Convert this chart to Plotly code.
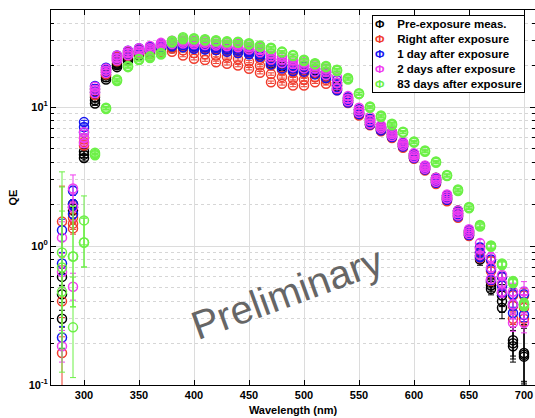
import plotly.graph_objects as go

# ---------------- data ----------------
wavelength = [280, 290, 300, 310, 320, 330, 340, 350, 360, 370, 380, 390, 400, 410, 420,
              430, 440, 450, 460, 470, 480, 490, 500, 510, 520, 530, 540, 550, 560, 570,
              580, 590, 600, 610, 620, 630, 640, 650, 660, 670, 680, 690, 700]

series_names = ["Pre-exposure meas.", "Right after exposure", "1 day after exposure",
                "2 days after exposure", "83 days after exposure"]

# three readings (upper / middle / lower) per wavelength for every series
pre_hi = [0.6, 2.0, 4.8, 11.8, 17.0, 20.6, 23.0, 25.0, 26.0, 27.5, 28.0, 28.5, 28.0, 27.8, 27.5,
          27.0, 26.5, 26.0, 25.0, 22.0, 21.0, 20.0, 19.5, 18.8, 17.8, 15.0, 11.6, 9.6, 8.2, 7.2,
          6.6, 5.5, 4.6, 3.75, 3.1, 2.3, 1.8, 1.28, 0.9, 0.55, 0.44, 0.21, 0.17]
pre_mid = [0.45, 1.9, 4.55, 11.2, 16.4, 20.0, 22.3, 24.2, 25.2, 26.8, 27.3, 27.7, 27.3, 27.0, 26.7,
           26.2, 25.7, 25.2, 24.2, 21.3, 20.3, 19.3, 18.8, 18.1, 17.2, 14.2, 11.2, 9.2, 7.8, 7.0,
           6.35, 5.35, 4.45, 3.65, 2.98, 2.22, 1.72, 1.24, 0.85, 0.52, 0.4, 0.2, 0.165]
pre_lo = [0.3, 1.8, 4.3, 10.6, 15.8, 19.4, 21.6, 23.5, 24.5, 26.0, 26.5, 27.0, 26.5, 26.2, 26.0,
          25.5, 25.0, 24.5, 23.5, 20.6, 19.6, 18.6, 18.2, 17.5, 16.6, 13.5, 10.9, 8.9, 7.5, 6.8,
          6.1, 5.2, 4.3, 3.55, 2.88, 2.15, 1.65, 1.2, 0.8, 0.49, 0.36, 0.19, 0.16]

right_hi = [1.5, 1.6, 6.0, 13.5, 18.5, 23.0, 25.0, 26.0, 26.5, 28.0, 28.0, 27.8, 26.9, 26.6, 26.3,
            25.5, 24.9, 24.3, 22.3, 19.9, 18.4, 17.8, 17.6, 17.8, 16.9, 14.5, 11.5, 9.4, 8.0, 7.1,
            6.4, 5.4, 4.5, 3.7, 3.0, 2.25, 1.75, 1.28, 0.97, 0.78, 0.6, 0.44, 0.44]
right_mid = [0.4, 1.45, 5.6, 12.8, 17.8, 22.2, 24.2, 25.2, 25.3, 26.5, 26.5, 25.6, 24.5, 24.0, 23.5,
             23.0, 22.2, 21.3, 19.9, 17.3, 16.5, 16.0, 15.8, 16.4, 15.7, 13.8, 11.1, 9.0, 7.7, 6.9,
             6.2, 5.25, 4.4, 3.6, 2.9, 2.18, 1.68, 1.23, 0.9, 0.66, 0.52, 0.37, 0.36]
right_lo = [0.17, 1.34, 5.3, 12.2, 17.2, 21.4, 23.4, 24.4, 24.0, 25.0, 25.0, 23.5, 22.3, 21.8, 21.0,
            20.5, 19.9, 18.9, 17.7, 15.1, 14.7, 14.3, 14.3, 15.1, 14.7, 13.2, 10.7, 8.7, 7.4, 6.7,
            6.0, 5.1, 4.25, 3.5, 2.8, 2.1, 1.6, 1.18, 0.82, 0.56, 0.46, 0.3, 0.3]

day1_hi = [1.3, 2.5, 7.8, 14.2, 19.2, 23.5, 25.5, 26.5, 27.2, 28.5, 29.0, 29.0, 28.0, 27.8, 27.5,
           27.0, 26.5, 25.6, 25.0, 22.3, 21.0, 20.0, 19.6, 18.8, 17.8, 15.6, 11.8, 9.6, 8.2, 7.2,
           6.5, 5.5, 4.6, 3.75, 3.05, 2.3, 1.78, 1.3, 0.98, 0.8, 0.6, 0.45, 0.45]
day1_mid = [0.75, 2.0, 7.2, 13.5, 18.5, 22.6, 24.6, 25.7, 26.4, 27.7, 28.2, 28.0, 27.2, 26.9, 26.6,
            26.0, 25.5, 24.8, 24.0, 21.3, 20.0, 19.0, 18.8, 18.0, 17.0, 14.4, 11.2, 9.2, 7.8, 7.0,
            6.3, 5.35, 4.45, 3.65, 2.95, 2.22, 1.7, 1.25, 0.9, 0.68, 0.52, 0.38, 0.38]
day1_lo = [0.22, 1.7, 6.6, 12.8, 17.8, 21.8, 23.8, 25.0, 25.6, 26.9, 27.4, 27.0, 26.3, 26.0, 25.7,
           25.0, 24.5, 24.0, 23.0, 20.3, 19.0, 18.2, 18.0, 17.2, 16.2, 13.2, 10.8, 8.9, 7.5, 6.8,
           6.1, 5.2, 4.3, 3.55, 2.85, 2.15, 1.63, 1.2, 0.83, 0.57, 0.46, 0.33, 0.32]

day2_hi = [1.15, 2.6, 6.6, 14.0, 19.0, 23.5, 25.5, 26.5, 27.5, 29.0, 30.0, 30.2, 30.0, 29.8, 29.5,
           29.0, 28.6, 28.0, 26.8, 24.3, 23.0, 21.7, 21.0, 20.0, 18.9, 16.4, 12.0, 9.9, 8.5, 7.4,
           6.6, 5.6, 4.65, 3.8, 3.1, 2.35, 1.8, 1.32, 1.05, 0.83, 0.62, 0.47, 0.47]
day2_mid = [0.65, 1.9, 6.0, 13.3, 18.3, 22.6, 24.5, 25.5, 26.5, 28.3, 29.3, 29.5, 29.2, 29.0, 28.6,
            28.2, 27.8, 27.0, 25.8, 23.2, 22.0, 20.5, 20.0, 19.0, 18.0, 15.0, 11.5, 9.5, 8.0, 7.2,
            6.4, 5.45, 4.5, 3.7, 3.0, 2.28, 1.73, 1.27, 0.95, 0.7, 0.54, 0.38, 0.38]
day2_lo = [0.19, 0.51, 5.5, 12.6, 17.6, 21.7, 23.6, 24.8, 25.8, 27.6, 28.5, 28.7, 28.3, 28.0, 27.8,
           27.4, 27.0, 26.0, 24.8, 22.0, 20.8, 19.4, 19.0, 18.0, 17.0, 13.6, 11.0, 9.1, 7.6, 7.0,
           6.2, 5.3, 4.35, 3.6, 2.9, 2.2, 1.66, 1.22, 0.86, 0.58, 0.47, 0.28, 0.28]

day83_hi = [0.9, 0.84, 1.53, 4.7, 9.9, 15.8, 19.8, 22.2, 23.2, 24.5, 30.0, 31.8, 31.3, 30.8, 30.3,
            29.8, 29.6, 28.8, 27.8, 26.8, 25.1, 23.7, 21.9, 20.7, 19.8, 18.6, 16.2, 12.6, 10.1, 8.7,
            7.6, 6.65, 5.65, 4.87, 4.06, 3.25, 2.55, 1.91, 1.42, 1.01, 0.75, 0.56, 0.39]
day83_mid = [0.7, 0.84, 1.06, 4.6, 9.8, 15.6, 19.6, 22.0, 22.9, 24.2, 29.6, 31.3, 31.0, 30.5, 30.0,
             29.5, 29.3, 28.5, 27.5, 26.5, 24.9, 23.5, 21.7, 20.5, 19.6, 18.4, 16.0, 12.5, 10.0, 8.6,
             7.5, 6.6, 5.6, 4.82, 4.02, 3.22, 2.52, 1.89, 1.4, 1.0, 0.74, 0.55, 0.38]
day83_lo = [0.47, 0.26, 1.06, 4.5, 9.7, 15.4, 19.4, 21.8, 22.6, 23.9, 29.2, 30.8, 30.7, 30.2, 29.7,
            29.2, 29.0, 28.2, 27.2, 26.2, 24.7, 23.3, 21.5, 20.3, 19.4, 18.2, 15.8, 12.4, 9.9, 8.5,
            7.4, 6.55, 5.55, 4.77, 3.98, 3.19, 2.49, 1.87, 1.38, 0.99, 0.73, 0.54, 0.37]

# relative uncertainty of each reading
err_pre = [0.15, 0.05, 0.05, 0.03, 0.03, 0.02, 0.02, 0.02, 0.02, 0.02, 0.02, 0.02, 0.02, 0.02, 0.02,
           0.02, 0.02, 0.02, 0.02, 0.02, 0.02, 0.02, 0.02, 0.02, 0.02, 0.02, 0.02, 0.02, 0.02, 0.02,
           0.02, 0.02, 0.02, 0.02, 0.03, 0.03, 0.04, 0.05, 0.10, 0.10, 0.20, 0.30, 0.60]
err_right = [0.8, 0.10, 0.03, 0.02, 0.02, 0.02, 0.02, 0.02, 0.02, 0.02, 0.02, 0.02, 0.02, 0.02, 0.02,
             0.02, 0.02, 0.02, 0.02, 0.02, 0.02, 0.02, 0.02, 0.02, 0.02, 0.02, 0.02, 0.02, 0.02, 0.02,
             0.02, 0.02, 0.02, 0.02, 0.02, 0.03, 0.03, 0.04, 0.06, 0.07, 0.08, 0.10, 0.12]
err_day1 = [0.2, 0.08, 0.03, 0.02, 0.02, 0.02, 0.02, 0.02, 0.02, 0.02, 0.02, 0.02, 0.02, 0.02, 0.02,
            0.02, 0.02, 0.02, 0.02, 0.02, 0.02, 0.02, 0.02, 0.02, 0.02, 0.02, 0.02, 0.02, 0.02, 0.02,
            0.02, 0.02, 0.02, 0.02, 0.02, 0.03, 0.03, 0.04, 0.06, 0.07, 0.08, 0.10, 0.12]
err_day2 = [0.3, 0.25, 0.03, 0.02, 0.02, 0.02, 0.02, 0.02, 0.02, 0.02, 0.02, 0.02, 0.02, 0.02, 0.02,
            0.02, 0.02, 0.02, 0.02, 0.02, 0.02, 0.02, 0.02, 0.02, 0.02, 0.02, 0.02, 0.02, 0.02, 0.02,
            0.02, 0.02, 0.02, 0.02, 0.02, 0.03, 0.03, 0.04, 0.06, 0.08, 0.10, 0.15, 0.18]
err_day83 = [2.8, 1.3, 0.5, 0.03, 0.02, 0.02, 0.02, 0.02, 0.02, 0.02, 0.02, 0.02, 0.02, 0.02, 0.02,
             0.02, 0.02, 0.02, 0.02, 0.02, 0.02, 0.02, 0.02, 0.02, 0.02, 0.02, 0.02, 0.02, 0.02, 0.02,
             0.02, 0.02, 0.02, 0.02, 0.02, 0.02, 0.02, 0.02, 0.03, 0.04, 0.05, 0.06, 0.08]

y_tick_vals = [0.1, 1, 10]
y_tick_text = ["10<sup>-1</sup>", "10<sup>0</sup>", "10<sup>1</sup>"]

colors = ["#000000", "#f03c2d", "#1414f0", "#f03cf0", "#6cf046"]

readings = [
    (pre_hi, pre_mid, pre_lo, err_pre),
    (right_hi, right_mid, right_lo, err_right),
    (day1_hi, day1_mid, day1_lo, err_day1),
    (day2_hi, day2_mid, day2_lo, err_day2),
    (day83_hi, day83_mid, day83_lo, err_day83),
]

FONT = "Liberation Sans"

fig = go.Figure()
for name, color, (hi, mid, lo, err) in zip(series_names, colors, readings):
    xs, ys, up, dn = [], [], [], []
    for row in (hi, mid, lo):
        for w, v, r in zip(wavelength, row, err):
            xs.append(w)
            ys.append(v)
            up.append(v * r)
            dn.append(v - v / (1 + r))
    fig.add_trace(go.Scatter(
        x=xs, y=ys, mode="markers", name=name, showlegend=False,
        marker=dict(symbol="circle-open", size=9, color=color, line=dict(width=1.5, color=color)),
        error_y=dict(type="data", symmetric=False, array=up, arrayminus=dn,
                     color=color, thickness=1, width=3),
    ))

# legend box (compact, MATLAB-like): coloured error-bar glyph + series name
legend_lines = [
    f"<span style='color:{c}'>Φ</span>&nbsp;&nbsp;&nbsp;&nbsp;{n}"
    for c, n in zip(colors, series_names)
]
fig.add_annotation(
    text="<br>".join(legend_lines), xref="paper", yref="paper",
    x=0.980, y=0.987, xanchor="right", yanchor="top", align="left", showarrow=False,
    bgcolor="white", bordercolor="black", borderwidth=1, borderpad=2,
    font=dict(family=FONT, size=11.5, color="black", weight="bold"),
)

fig.add_annotation(
    text="Preliminary", xref="paper", yref="paper", x=0.487, y=0.245,
    xanchor="center", yanchor="middle", showarrow=False, textangle=-20,
    font=dict(family=FONT, size=40, color="#666666"),
)

fig.update_layout(
    width=535, height=418,
    margin=dict(l=51, r=0, t=10, b=33),
    paper_bgcolor="white", plot_bgcolor="white",
    font=dict(family=FONT, size=11, color="black"),
    showlegend=False,
)

fig.update_xaxes(
    range=[270, 710], tick0=300, dtick=50,
    showline=True, linecolor="black", linewidth=1, mirror="ticks",
    ticks="inside", ticklen=5, tickcolor="black",
    showgrid=True, gridcolor="#dcdcdc", gridwidth=1, zeroline=False,
    tickfont=dict(family=FONT, size=11, weight="bold"),
    title=dict(text="Wavelength (nm)", font=dict(family=FONT, size=11, weight="bold"), standoff=6),
)
fig.update_yaxes(
    type="log", range=[-1, 1.699],
    tickmode="array", tickvals=y_tick_vals, ticktext=y_tick_text,
    showline=True, linecolor="black", linewidth=1, mirror="ticks",
    ticks="inside", ticklen=5, tickcolor="black",
    showgrid=True, gridcolor="#dcdcdc", gridwidth=1, zeroline=False,
    tickfont=dict(family=FONT, size=11, weight="bold"),
    minor=dict(dtick="D1", ticks="inside", ticklen=3, tickcolor="black",
               showgrid=True, gridcolor="#d6d6d6", griddash="dot", gridwidth=1),
    title=dict(text="QE", font=dict(family=FONT, size=11, weight="bold"), standoff=8),
)

fig.write_html("out.html", config={"displayModeBar": False},
               post_script="document.body.style.margin='0';")
